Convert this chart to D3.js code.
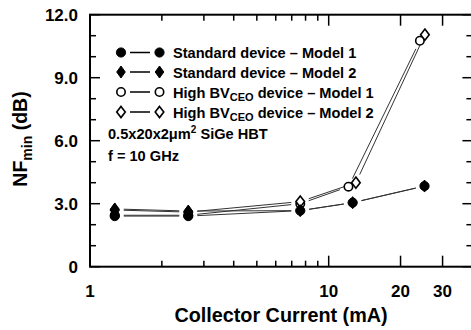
<!DOCTYPE html>
<html><head><meta charset="utf-8">
<script src="https://cdn.jsdelivr.net/npm/d3@7"></script>
<style>
body{margin:0;background:#fff;}
text{font-family:"Liberation Sans",Arial,sans-serif;font-weight:bold;fill:#000;}
</style></head>
<body><svg id="c" width="471" height="330"></svg>
<script>
// ---- data ----
const stdM1X = [1.27, 2.58, 7.6, 12.6, 25.2];
const stdM1Y = [2.41, 2.41, 2.67, 3.05, 3.84];
const stdM2X = [1.27, 2.58, 7.6, 12.6, 25.2];
const stdM2Y = [2.75, 2.65, 2.67, 3.05, 3.84];
const hiM1X = [1.27, 2.58, 7.6, 12.1, 24.1];
const hiM1Y = [2.45, 2.45, 3.0, 3.81, 10.76];
const hiM2X = [1.27, 2.58, 7.6, 13.0, 25.3];
const hiM2Y = [2.7, 2.6, 3.1, 4.0, 11.05];
const xMajorTicks = [1, 10, 20, 30];
const xMinorTicks = [2, 3, 4, 5, 6, 7, 8, 9];
const yMajorTicks = [0, 3, 6, 9, 12];
const yTickLabels = ["0", "3.0", "6.0", "9.0", "12.0"];
const yMinorTicks = [1, 2, 4, 5, 7, 8, 10, 11];
const legendNames = ["Standard device \u2013 Model 1", "Standard device \u2013 Model 2", "High BV|CEO| device \u2013 Model 1", "High BV|CEO| device \u2013 Model 2"];

const svg = d3.select("#c");
const L = 90, R = 472.4, T = 14.7, B = 266.7;
const x = d3.scaleLog().domain([1, 40]).range([L, R]);
const y = d3.scaleLinear().domain([0, 12]).range([B, T]);

const series = [
  {xs: hiM1X, ys: hiM1Y, shape: "circle", filled: false},
  {xs: hiM2X, ys: hiM2Y, shape: "diamond", filled: false},
  {xs: stdM2X, ys: stdM2Y, shape: "diamond", filled: true},
  {xs: stdM1X, ys: stdM1Y, shape: "circle", filled: true}
];

function marker(g, shape, filled, cx, cy) {
  if (shape === "circle") {
    g.append("circle").attr("cx", cx).attr("cy", cy).attr("r", filled ? 4.6 : 4.2)
      .attr("fill", filled ? "#000" : "#fff").attr("stroke", "#000").attr("stroke-width", filled ? 1 : 1.6);
  } else {
    const w = 4.3, h = filled ? 6 : 5.6;
    g.append("path").attr("d", `M${cx},${cy-h}L${cx+w},${cy}L${cx},${cy+h}L${cx-w},${cy}Z`)
      .attr("fill", filled ? "#000" : "#fff").attr("stroke", "#000").attr("stroke-width", filled ? 1 : 1.6);
  }
}

// lines (with gaps near markers)
const lg = svg.append("g");
series.forEach(s => {
  for (let i = 0; i < s.xs.length - 1; i++) {
    const x1 = x(s.xs[i]), y1 = y(s.ys[i]), x2 = x(s.xs[i+1]), y2 = y(s.ys[i+1]);
    const dx = x2 - x1, dy = y2 - y1, len = Math.hypot(dx, dy), g = 9;
    lg.append("line")
      .attr("x1", x1 + dx * g / len).attr("y1", y1 + dy * g / len)
      .attr("x2", x2 - dx * g / len).attr("y2", y2 - dy * g / len)
      .attr("stroke", "#333").attr("stroke-width", 1);
  }
});
const mg = svg.append("g");
series.forEach(s => s.xs.forEach((v, i) => marker(mg, s.shape, s.filled, x(v), y(s.ys[i]))));

// frame
svg.append("rect").attr("x", L).attr("y", T).attr("width", R - L).attr("height", B - T)
  .attr("fill", "none").attr("stroke", "#000").attr("stroke-width", 2);

// axes ticks
const ax = svg.append("g").attr("stroke", "#000").attr("stroke-width", 1.5);
xMajorTicks.concat(xMinorTicks).forEach(v => {
  const len = xMajorTicks.includes(v) ? 11 : 6;
  ax.append("line").attr("x1", x(v)).attr("x2", x(v)).attr("y1", B).attr("y2", B - len);
  ax.append("line").attr("x1", x(v)).attr("x2", x(v)).attr("y1", T).attr("y2", T + len);
});
yMajorTicks.concat(yMinorTicks).forEach(v => {
  const len = yMajorTicks.includes(v) ? 10 : 6;
  ax.append("line").attr("x1", L).attr("x2", L + len).attr("y1", y(v)).attr("y2", y(v));
  ax.append("line").attr("x1", R).attr("x2", R - len).attr("y1", y(v)).attr("y2", y(v));
});

// tick labels
svg.append("g").selectAll("text").data(xMajorTicks).join("text")
  .attr("x", d => x(d)).attr("y", 297).attr("text-anchor", "middle")
  .attr("font-size", 17).text(d => d);
svg.append("g").selectAll("text").data(yMajorTicks).join("text")
  .attr("x", 78).attr("y", d => y(d) + 6).attr("text-anchor", "end")
  .attr("font-size", 17).text((d, i) => yTickLabels[i]);

// axis titles
svg.append("text").attr("x", 281).attr("y", 322).attr("text-anchor", "middle")
  .attr("font-size", 19.8).text("Collector Current (mA)");
const yt = svg.append("text").attr("transform", "translate(27,139) rotate(-90)")
  .attr("text-anchor", "middle").attr("font-size", 19.5);
yt.append("tspan").text("NF");
yt.append("tspan").attr("font-size", 14).attr("dy", 5).text("min");
yt.append("tspan").attr("dy", -5).text(" (dB)");

// legend
const legRows = [52.5, 72, 92, 112];
const legOrder = [
  {shape: "circle", filled: true}, {shape: "diamond", filled: true},
  {shape: "circle", filled: false}, {shape: "diamond", filled: false}
];
const leg = svg.append("g");
legOrder.forEach((s, i) => {
  const yy = legRows[i];
  leg.append("line").attr("x1", 130).attr("x2", 150).attr("y1", yy).attr("y2", yy)
    .attr("stroke", "#000").attr("stroke-width", 1.5);
  marker(leg, s.shape, s.filled, 121, yy);
  marker(leg, s.shape, s.filled, 159.5, yy);
  const t = leg.append("text").attr("x", 173).attr("y", yy + 5.5).attr("font-size", 14.6);
  const parts = legendNames[i].split("|");
  t.append("tspan").text(parts[0]);
  if (parts.length > 1) {
    t.append("tspan").attr("font-size", 11).attr("dy", 3).text(parts[1]);
    t.append("tspan").attr("dy", -3).text(parts[2]);
  }
});
const t5 = leg.append("text").attr("x", 108).attr("y", 138.5).attr("font-size", 14.6);
t5.append("tspan").text("0.5x20x2\u03bcm");
t5.append("tspan").attr("font-size", 10).attr("dy", -6).text("2");
t5.append("tspan").attr("dy", 6).text(" SiGe HBT");
leg.append("text").attr("x", 108).attr("y", 160.5).attr("font-size", 14.6).text("f = 10 GHz");
</script></body></html>
